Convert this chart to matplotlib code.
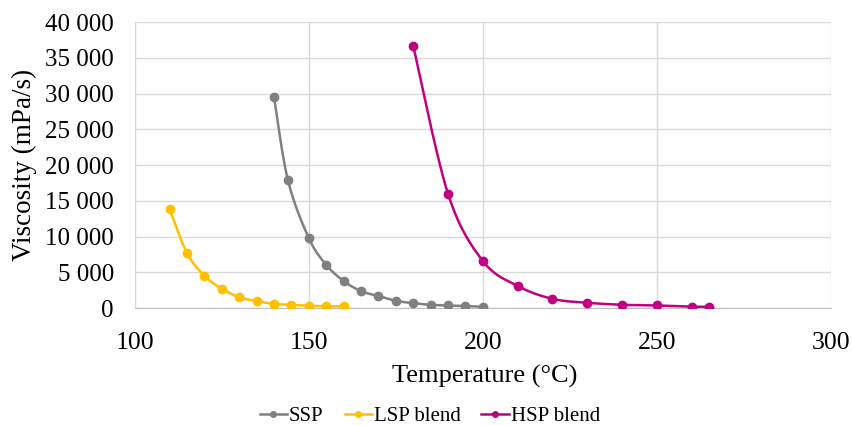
import matplotlib.pyplot as plt
import numpy as np
from matplotlib.ticker import FuncFormatter

plt.rcParams['font.family'] = ['Liberation Serif', 'DejaVu Serif']

# data
ssp_t = [140, 144, 150, 155, 160, 165, 170, 175, 180, 185, 190, 195, 200]
ssp_v = [29550, 17900, 9800, 6060, 3800, 2380, 1690, 1020, 700, 460, 370, 290, 190]

lsp_t = [110, 115, 120, 125, 130, 135, 140, 145, 150, 155, 160]
lsp_v = [13850, 7700, 4550, 2700, 1540, 980, 600, 450, 330, 270, 240]

hsp_t = [180, 190, 200, 210, 220, 230, 240, 250, 260, 265]
hsp_v = [36700, 16000, 6600, 3100, 1300, 750, 470, 370, 200, 200]

series = [
    ('SSP', ssp_t, ssp_v, '#808080'),
    ('LSP blend', lsp_t, lsp_v, '#FFC000'),
    ('HSP blend', hsp_t, hsp_v, '#C00080'),
]


def smooth(x, y, n=30):
    # Catmull-Rom curve through the points (similar to Excel "smoothed line")
    p = np.column_stack([x, y]).astype(float)
    p = np.vstack([p[0], p, p[-1]])
    out = []
    tt = np.linspace(0, 1, n)
    for i in range(1, len(p) - 2):
        p0, p1, p2, p3 = p[i - 1], p[i], p[i + 1], p[i + 2]
        for t in tt[:-1] if i < len(p) - 3 else tt:
            t2, t3 = t * t, t * t * t
            pt = 0.5 * ((2 * p1) + (-p0 + p2) * t
                        + (2 * p0 - 5 * p1 + 4 * p2 - p3) * t2
                        + (-p0 + 3 * p1 - 3 * p2 + p3) * t3)
            out.append(pt)
    out = np.array(out)
    return out[:, 0], out[:, 1]


fig = plt.figure(figsize=(8.53, 4.25), dpi=100)
ax = fig.add_axes([0.158, 0.275, 0.816, 0.673])

for name, t, v, c in series:
    sx, sy = smooth(t, v)
    ax.plot(sx, sy, color=c, lw=1.8, solid_capstyle='round', zorder=3)
    ax.plot(t, v, 'o', color=c, ms=6, zorder=4)
    ax.plot([], [], '-o', color=c, lw=1.8, ms=4, label=name)

ax.set_xlim(100, 300)
ax.set_ylim(0, 40000)
ax.set_xticks(range(100, 301, 50))
ax.set_yticks(range(0, 40001, 5000))
ax.yaxis.set_major_formatter(FuncFormatter(lambda v, p: f'{int(v):,}'.replace(',', ' ')))
ax.grid(True, color='#D9D9D9', lw=1)
ax.set_axisbelow(True)
for s in ['top', 'right', 'left']:
    ax.spines[s].set_visible(False)
ax.spines['bottom'].set_color('#BFBFBF')
ax.tick_params(axis='y', length=0, labelsize=18, pad=15)
ax.tick_params(axis='x', length=0, labelsize=18.5, pad=17)
ax.set_xlabel('Temperature (°C)', fontsize=19)
ax.set_ylabel('Viscosity (mPa/s)', fontsize=19.5)
ax.xaxis.set_label_coords(0.503, -0.2)
ax.yaxis.set_label_coords(-0.14, 0.5)

fig.legend(loc='center', bbox_to_anchor=(0.504, 0.02), ncol=3, frameon=False,
           fontsize=15, handlelength=1.3, handletextpad=0.1, columnspacing=1.0,
           borderpad=0.2)

fig.savefig('out.png', dpi=100)
